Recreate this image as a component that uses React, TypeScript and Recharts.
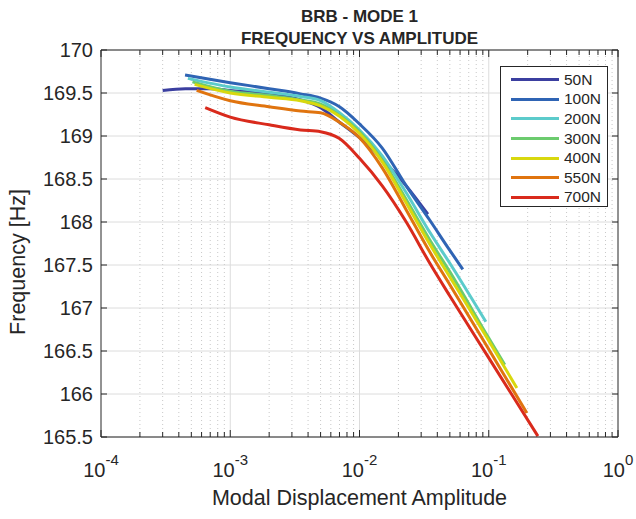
import React from "react";
import { LineChart, Line, XAxis, YAxis, CartesianGrid, ReferenceLine } from "recharts";

const FONT = "'Liberation Sans', Arial, Helvetica, sans-serif";
const INK = "#262626";

const seriesNames = ["50N", "100N", "200N", "300N", "400N", "550N", "700N"];
const seriesColors = ["#3b3fa0", "#2f64b4", "#5ccbcb", "#6ccb6e", "#d8d80e", "#e0740f", "#d92a1c"];

// amplitude (x) and frequency [Hz] (y) per preload
const amp50 = [3e-4, 4.5e-4, 7e-4, 1e-3, 2e-3, 3.5e-3, 5e-3, 7e-3, 0.01, 0.015, 0.023, 0.0338];
const freq50 = [169.53, 169.55, 169.55, 169.53, 169.49, 169.42, 169.33, 169.16, 168.98, 168.73, 168.42, 168.09];

const amp100 = [4.47e-4, 1e-3, 2e-3, 3.5e-3, 5e-3, 7e-3, 0.01, 0.015, 0.023, 0.035, 0.05, 0.063];
const freq100 = [169.71, 169.62, 169.55, 169.49, 169.44, 169.34, 169.14, 168.86, 168.42, 168.02, 167.67, 167.45];

const amp200 = [4.7e-4, 1e-3, 2e-3, 3.5e-3, 5e-3, 7e-3, 0.01, 0.015, 0.023, 0.035, 0.05, 0.095];
const freq200 = [169.67, 169.57, 169.51, 169.46, 169.41, 169.27, 169.07, 168.77, 168.34, 167.88, 167.52, 166.84];

const amp300 = [5.1e-4, 1e-3, 2e-3, 3.5e-3, 5e-3, 7e-3, 0.01, 0.015, 0.023, 0.035, 0.05, 0.1, 0.133];
const freq300 = [169.63, 169.52, 169.47, 169.42, 169.37, 169.24, 169.05, 168.72, 168.26, 167.79, 167.42, 166.65, 166.34];

const amp400 = [5.3e-4, 1e-3, 2e-3, 3.5e-3, 5e-3, 7e-3, 0.01, 0.015, 0.023, 0.035, 0.05, 0.1, 0.165];
const freq400 = [169.6, 169.5, 169.45, 169.41, 169.35, 169.23, 169.03, 168.7, 168.22, 167.74, 167.36, 166.62, 166.07];

const amp550 = [5.5e-4, 1e-3, 2e-3, 3.5e-3, 5e-3, 7e-3, 0.01, 0.015, 0.023, 0.035, 0.05, 0.1, 0.197];
const freq550 = [169.53, 169.41, 169.34, 169.29, 169.27, 169.16, 168.98, 168.63, 168.14, 167.65, 167.27, 166.52, 165.78];

const amp700 = [6.4e-4, 1e-3, 2e-3, 3.5e-3, 5e-3, 7e-3, 0.01, 0.015, 0.023, 0.035, 0.05, 0.1, 0.24];
const freq700 = [169.33, 169.22, 169.13, 169.07, 169.05, 168.97, 168.74, 168.42, 168.0, 167.52, 167.14, 166.42, 165.51];

const ampSets = [amp50, amp100, amp200, amp300, amp400, amp550, amp700];
const freqSets = [freq50, freq100, freq200, freq300, freq400, freq550, freq700];

const xDecades = [1e-4, 1e-3, 1e-2, 1e-1, 1];
const xMinorSteps = [2, 3, 4, 5, 6, 7, 8, 9];
const yTicks = [165.5, 166, 166.5, 167, 167.5, 168, 168.5, 169, 169.5, 170];

const xMinor = xDecades.slice(0, -1).flatMap((d) => xMinorSteps.map((k) => k * d));
const xAllTicks = [...xDecades, ...xMinor].sort((a, b) => a - b);

const series = seriesNames.map((name, i) => ({
  name,
  color: seriesColors[i],
  data: ampSets[i].map((x, j) => ({ x, y: freqSets[i][j] })),
}));

const isMajor = (v: number) => xDecades.some((d) => Math.abs(v - d) < d * 1e-6);

function BottomTick({ x, y, payload }: any) {
  const v = payload.value;
  const major = isMajor(v);
  const exp = Math.round(Math.log10(v));
  return (
    <g>
      <line x1={x} x2={x} y1={y} y2={y - (major ? 7 : 5)} stroke={INK} strokeWidth={1} />
      {major && (
        <text x={x} y={y + 40} textAnchor="middle" fill={INK} fontFamily={FONT} fontSize={20}>
          <tspan>10</tspan>
          <tspan dy={-12} fontSize={15}>{exp}</tspan>
        </text>
      )}
    </g>
  );
}

function TopTick({ x, y, payload }: any) {
  const major = isMajor(payload.value);
  return <line x1={x} x2={x} y1={y} y2={y + (major ? 7 : 5)} stroke={INK} strokeWidth={1} />;
}

function LeftTick({ x, y, payload }: any) {
  return (
    <g>
      <line x1={x} x2={x + 6} y1={y} y2={y} stroke={INK} strokeWidth={1} />
      <text x={x - 8} y={y} dy="0.36em" textAnchor="end" fill={INK} fontFamily={FONT} fontSize={20}>
        {payload.value}
      </text>
    </g>
  );
}

function RightTick({ x, y }: any) {
  return <line x1={x} x2={x - 6} y1={y} y2={y} stroke={INK} strokeWidth={1} />;
}

export default function App() {
  return (
    <div style={{ position: "relative", width: 636, height: 519, background: "#fff", fontFamily: FONT, color: INK }}>
      <style>{"body{margin:0}"}</style>
      <LineChart width={636} height={519} margin={{ top: 40, right: 8, bottom: 32, left: 41 }}>
        <CartesianGrid horizontal vertical={false} stroke="#dcdcdc" strokeWidth={1} />
        {xMinor.map((v) => (
          <ReferenceLine key={"m" + v} x={v} stroke="#c8c8c8" strokeDasharray="1 3" strokeWidth={1} />
        ))}
        {xDecades.slice(1, -1).map((v) => (
          <ReferenceLine key={"M" + v} x={v} stroke="#dcdcdc" strokeWidth={1} />
        ))}
        <XAxis
          type="number"
          dataKey="x"
          scale="log"
          domain={[1e-4, 1]}
          allowDataOverflow
          ticks={xAllTicks}
          interval={0}
          height={50}
          tickSize={0}
          tickMargin={0}
          axisLine={{ stroke: INK }}
          tick={(p: any) => <BottomTick {...p} />}
        />
        <XAxis
          xAxisId="top"
          orientation="top"
          type="number"
          dataKey="x"
          scale="log"
          domain={[1e-4, 1]}
          allowDataOverflow
          ticks={xAllTicks}
          interval={0}
          height={10}
          tickSize={0}
          tickMargin={0}
          axisLine={{ stroke: INK }}
          tick={(p: any) => <TopTick {...p} />}
        />
        <YAxis
          type="number"
          domain={[165.5, 170]}
          allowDataOverflow
          ticks={yTicks}
          interval={0}
          width={60}
          tickSize={0}
          tickMargin={0}
          axisLine={{ stroke: INK }}
          tick={(p: any) => <LeftTick {...p} />}
        />
        <YAxis
          yAxisId="right"
          orientation="right"
          type="number"
          domain={[165.5, 170]}
          allowDataOverflow
          ticks={yTicks}
          interval={0}
          width={10}
          tickSize={0}
          tickMargin={0}
          axisLine={{ stroke: INK }}
          tick={(p: any) => <RightTick {...p} />}
        />
        {series.map((s) => (
          <Line
            key={s.name}
            data={s.data}
            dataKey="y"
            name={s.name}
            type="monotone"
            stroke={s.color}
            strokeWidth={3}
            dot={false}
            activeDot={false}
            isAnimationActive={false}
          />
        ))}
      </LineChart>

      <div style={{ position: "absolute", left: 0, width: 719, top: 6, textAlign: "center", fontWeight: "bold", fontSize: 17, lineHeight: "22px" }}>
        BRB - MODE 1<br />FREQUENCY VS AMPLITUDE
      </div>
      <div style={{ position: "absolute", left: 0, width: 719, top: 486, textAlign: "center", fontSize: 21.5 }}>
        Modal Displacement Amplitude
      </div>
      <div
        style={{
          position: "absolute",
          left: 18,
          top: 262,
          transform: "translate(-50%, -50%) rotate(-90deg)",
          whiteSpace: "nowrap",
          fontSize: 21.5,
        }}
      >
        Frequency [Hz]
      </div>

      <div
        style={{
          position: "absolute",
          left: 500,
          top: 66,
          width: 108,
          height: 141,
          border: `1px solid ${INK}`,
          background: "#fff",
          boxSizing: "border-box",
          paddingTop: 3,
        }}
      >
        {series.map((s) => (
          <div key={s.name} style={{ display: "flex", alignItems: "center", height: 19.6, marginLeft: 10 }}>
            <div style={{ width: 48, height: 3, background: s.color, marginRight: 5 }} />
            <span style={{ fontSize: 15.5 }}>{s.name}</span>
          </div>
        ))}
      </div>
    </div>
  );
}
